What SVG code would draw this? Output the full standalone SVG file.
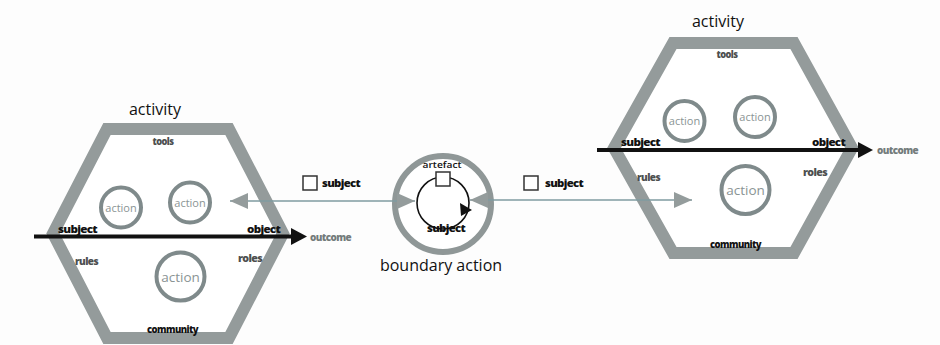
<svg xmlns="http://www.w3.org/2000/svg" width="940" height="345" viewBox="0 0 940 345">
  <style>
    .hex { fill: #ffffff; stroke: #949b9b; stroke-width: 12; stroke-linejoin: miter; }
    .act { fill: none; stroke: #7f8a8b; stroke-width: 4; }
    .acttxt { font-family: "Open Sans", "Noto Sans", sans-serif; fill: #8a9494; text-anchor: middle; }
    .title { font-family: "Open Sans", "Noto Sans", sans-serif; fill: #111; font-size: 16px; text-anchor: middle; }
    .lbl { font-family: "Open Sans", "Noto Sans", sans-serif; font-weight: 800; font-size: 10px; letter-spacing: -0.6px; }
    .dark { fill: #111; }
    .mid { fill: #4d4f4f; }
    .soft { fill: #737b7b; }
    .flow { stroke: #111; stroke-width: 4; fill: none; }
    .link { stroke: #7f9ba0; stroke-width: 1.6; fill: none; }
    .box { fill: #fff; stroke: #333; stroke-width: 1.5; }
  </style>
  <defs>
    <marker id="grayhead" markerUnits="userSpaceOnUse" markerWidth="18" markerHeight="16" viewBox="0 0 18 16" refX="18" refY="8" orient="auto-start-reverse">
      <path d="M0,0 L18,8 L0,16 Z" fill="#949c9c"/>
    </marker>
  </defs>

  <rect width="940" height="345" fill="#fdfdfd"/>

  <!-- left activity -->
  <g id="activity-left">
    <text class="title" x="155" y="115" font-size="17">activity</text>
    <polygon class="hex" points="107,129 229,129 283,233.5 229,338 107,338 53,233.5"/>
    <text class="lbl mid" x="163" y="145" text-anchor="middle" textLength="21" lengthAdjust="spacingAndGlyphs">tools</text>
    <circle class="act" cx="121" cy="207.5" r="20"/>
    <text class="acttxt" x="121" y="211.5" font-size="11">action</text>
    <circle class="act" cx="190" cy="202.5" r="20"/>
    <text class="acttxt" x="190" y="206.5" font-size="11">action</text>
    <circle class="act" cx="180.5" cy="276.5" r="24" stroke-width="4.5"/>
    <text class="acttxt" x="180.5" y="281.5" font-size="13.5">action</text>
    <text class="lbl mid" x="75" y="265" textLength="23" lengthAdjust="spacingAndGlyphs">rules</text>
    <text class="lbl mid" x="238" y="262" textLength="24" lengthAdjust="spacingAndGlyphs">roles</text>
    <text class="lbl dark" x="147" y="333" textLength="51" lengthAdjust="spacingAndGlyphs">community</text>
    <line class="flow" x1="34" y1="236.5" x2="293" y2="236.5"/>
    <polygon points="291,228 307,236.5 291,245" fill="#111"/>
    <text class="lbl dark" x="58" y="233" textLength="39" lengthAdjust="spacingAndGlyphs">subject</text>
    <text class="lbl dark" x="247" y="233" textLength="33" lengthAdjust="spacingAndGlyphs">object</text>
    <text class="lbl soft" x="310" y="241" textLength="41" lengthAdjust="spacingAndGlyphs">outcome</text>
  </g>

  <!-- boundary action -->
  <g id="boundary-action">
    <circle cx="443" cy="204" r="48" fill="#fff" stroke="#8f9797" stroke-width="6"/>
    <circle cx="443" cy="203" r="26" fill="none" stroke="#111" stroke-width="1.6"/>
    <polygon points="460,203 472,210 461,216" fill="#111"/>
    <rect class="box" x="436" y="172" width="14" height="14"/>
    <text x="442" y="168" font-family="'Open Sans', 'Noto Sans', sans-serif" font-weight="600" font-size="9.5" fill="#111" text-anchor="middle" textLength="39" lengthAdjust="spacingAndGlyphs">artefact</text>
    <text class="lbl dark" x="446" y="232" text-anchor="middle" textLength="38" lengthAdjust="spacingAndGlyphs">subject</text>
    <text class="title" x="441" y="271">boundary action</text>
  </g>

  <!-- right activity -->
  <g id="activity-right">
    <text class="title" x="718" y="27" font-size="17">activity</text>
    <polygon class="hex" points="673,43 794,43 852,148 794,253 673,253 614,148"/>
    <text class="lbl mid" x="727" y="58" text-anchor="middle" textLength="21" lengthAdjust="spacingAndGlyphs">tools</text>
    <circle class="act" cx="684.5" cy="121" r="20"/>
    <text class="acttxt" x="684.5" y="125" font-size="11">action</text>
    <circle class="act" cx="755" cy="117" r="20"/>
    <text class="acttxt" x="755" y="121" font-size="11">action</text>
    <circle class="act" cx="745.5" cy="190" r="24" stroke-width="4.5"/>
    <text class="acttxt" x="745.5" y="195" font-size="13.5">action</text>
    <text class="lbl mid" x="637" y="181" textLength="23" lengthAdjust="spacingAndGlyphs">rules</text>
    <text class="lbl mid" x="803" y="176" textLength="24" lengthAdjust="spacingAndGlyphs">roles</text>
    <text class="lbl dark" x="710" y="248" textLength="51" lengthAdjust="spacingAndGlyphs">community</text>
    <line class="flow" x1="597" y1="150" x2="860" y2="150"/>
    <polygon points="858,142 873,150 858,158" fill="#111"/>
    <text class="lbl dark" x="621" y="146" textLength="39" lengthAdjust="spacingAndGlyphs">subject</text>
    <text class="lbl dark" x="812" y="146" textLength="33" lengthAdjust="spacingAndGlyphs">object</text>
    <text class="lbl soft" x="877" y="154" textLength="41" lengthAdjust="spacingAndGlyphs">outcome</text>
  </g>

  <!-- connectors between the boundary action and the two activities -->
  <g id="connectors">
    <line class="link" x1="230" y1="201" x2="415" y2="201" marker-start="url(#grayhead)" marker-end="url(#grayhead)"/>
    <line class="link" x1="470" y1="200" x2="692" y2="200" marker-start="url(#grayhead)" marker-end="url(#grayhead)"/>
    <rect class="box" x="303" y="176" width="14" height="14"/>
    <text class="lbl dark" x="322" y="187" textLength="38" lengthAdjust="spacingAndGlyphs">subject</text>
    <rect class="box" x="524" y="176" width="14" height="14"/>
    <text class="lbl dark" x="545" y="187" textLength="38" lengthAdjust="spacingAndGlyphs">subject</text>
  </g>
</svg>
